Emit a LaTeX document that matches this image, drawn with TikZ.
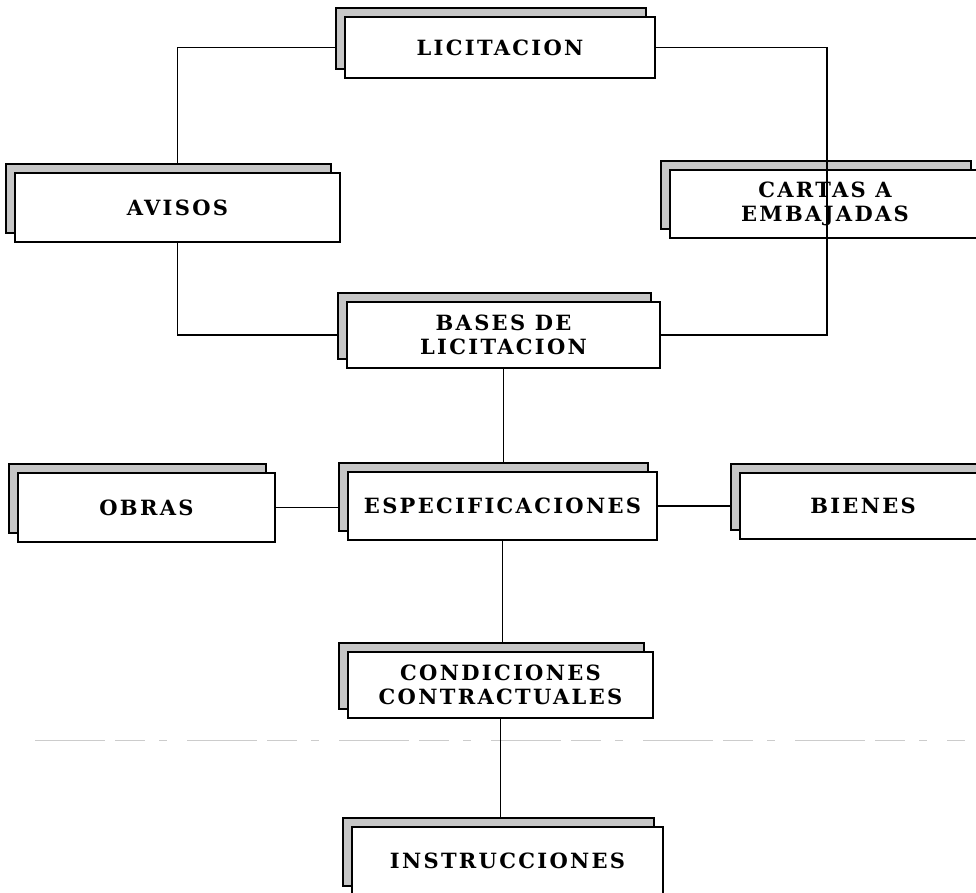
\documentclass[tikz,border=0pt]{standalone}
\usepackage{fontspec}
\setmainfont{DejaVu Serif}
\newfontfamily\boxfont{DejaVu Serif}[LetterSpace=11]
\usetikzlibrary{shadows}
\pgfdeclarelayer{background}
\pgfdeclarelayer{canvas}
\pgfsetlayers{canvas,background,main}
\tikzset{
  box/.style={draw, line width=1.6pt, fill=white, inner sep=0pt, align=center,
    font=\boxfont\bfseries\fontsize{21}{24}\selectfont,
    general shadow={shadow xshift=-9pt, shadow yshift=9pt, fill=gray!45, draw=black, line width=1.4pt}},
  conn/.style={line width=1.8pt},
  artifact/.style={gray!40, line width=0.6pt, dash pattern=on 70pt off 10pt on 30pt off 14pt on 8pt off 20pt}
}
\begin{document}
\begin{tikzpicture}[x=1pt,y=-1pt]
\useasboundingbox (0,0) rectangle (976,893);
\clip (0,0) rectangle (976,893);
\begin{pgfonlayer}{canvas}
  \fill[white] (0,0) rectangle (976,893);
\end{pgfonlayer}

\node[box, minimum width=310pt, minimum height=61pt] (lic) at (500,47.5) {LICITACION};
\node[box, minimum width=325pt, minimum height=69pt] (avi) at (177.5,207.5) {AVISOS};
\node[box, minimum width=310pt, minimum height=68pt] (car) at (825,204) {CARTAS A\\EMBAJADAS};
\node[box, minimum width=313pt, minimum height=66pt] (bas) at (503.5,335) {BASES DE\\LICITACION};
\node[box, minimum width=257pt, minimum height=69pt] (obr) at (146.5,507.5) {OBRAS};
\node[box, minimum width=309pt, minimum height=68pt] (esp) at (502.5,506) {ESPECIFICACIONES};
\node[box, minimum width=246pt, minimum height=66pt] (bie) at (863,506) {BIENES};
\node[box, minimum width=305pt, minimum height=66pt] (con) at (500.5,685) {CONDICIONES\\CONTRACTUALES};
\node[box, minimum width=311pt, minimum height=68pt] (ins) at (507.5,861) {INSTRUCCIONES};

\begin{pgfonlayer}{background}
  \draw[artifact] (35,740) -- (965,740);
  \draw[conn] (lic) -| (avi);
  \draw[conn] (avi) |- (bas);
  \draw[conn] (bas) -- (bas |- esp);
  \draw[conn] (obr) -- (obr -| esp);
  \draw[conn] (esp) -- (esp -| bie);
  \draw[conn] (esp) -- (esp |- con);
  \draw[conn] (con) -- (con |- ins);
\end{pgfonlayer}
\coordinate (cv) at ([xshift=2pt]car.center);
\draw[conn] (lic.east) -| (cv) |- (bas.east);
\end{tikzpicture}
\end{document}
